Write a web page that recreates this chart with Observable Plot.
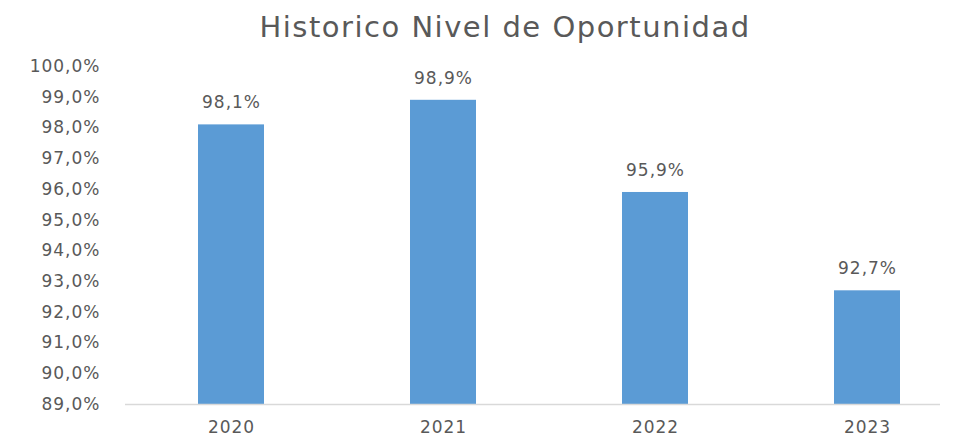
<!DOCTYPE html>
<html><head><meta charset="utf-8">
<script src="https://cdn.jsdelivr.net/npm/d3@7"></script>
<script src="https://cdn.jsdelivr.net/npm/@observablehq/plot@0.6"></script>
<style>
body{margin:0;background:#fff;}
#title{height:40px;width:960px;box-sizing:border-box;padding-left:50px;text-align:center;font-family:"DejaVu Sans",sans-serif;font-size:29px;line-height:29px;padding-top:13px;color:#595959;letter-spacing:1.5px;white-space:nowrap;}
#chart svg text{letter-spacing:1px;}
</style>
</head><body>
<div id="title">Historico Nivel de Oportunidad</div>
<div id="chart"></div>
<script>
const years = ["2020", "2021", "2022", "2023"];
const values = [98.1, 98.9, 95.9, 92.7];
const yTicks = [89, 90, 91, 92, 93, 94, 95, 96, 97, 98, 99, 100];

const data = years.map((y, i) => ({year: y, value: values[i]}));
const fmt = (d, dec) => d.toFixed(dec).replace(".", ",") + "%";

const plot = Plot.plot({
  width: 960,
  height: 405,
  marginTop: 26,
  marginBottom: 41,
  marginLeft: 125,
  marginRight: 20,
  style: {fontFamily: "DejaVu Sans, sans-serif", fontSize: "17px", color: "#595959", background: "#fff"},
  x: {domain: years, range: [125, 973], paddingInner: 0.69, paddingOuter: 0.345, label: null},
  y: {domain: [89, 100], label: null},
  marks: [
    Plot.barY(data, {x: "year", y1: 89, y2: "value", fill: "#5B9BD5"}),
    Plot.ruleY([89], {stroke: "#D9D9D9", strokeWidth: 1.5}),
    Plot.text(data, {x: "year", y: "value", text: d => fmt(d.value, 1), dy: -22, fill: "#595959", fontSize: 17}),
    Plot.axisY({ticks: yTicks, tickSize: 0, tickPadding: 25, tickFormat: d => fmt(d, 1), fontSize: 17, label: null}),
    Plot.axisX({tickSize: 0, tickPadding: 16, fontSize: 17, label: null})
  ]
});
document.getElementById("chart").appendChild(plot);
</script>
</body></html>
